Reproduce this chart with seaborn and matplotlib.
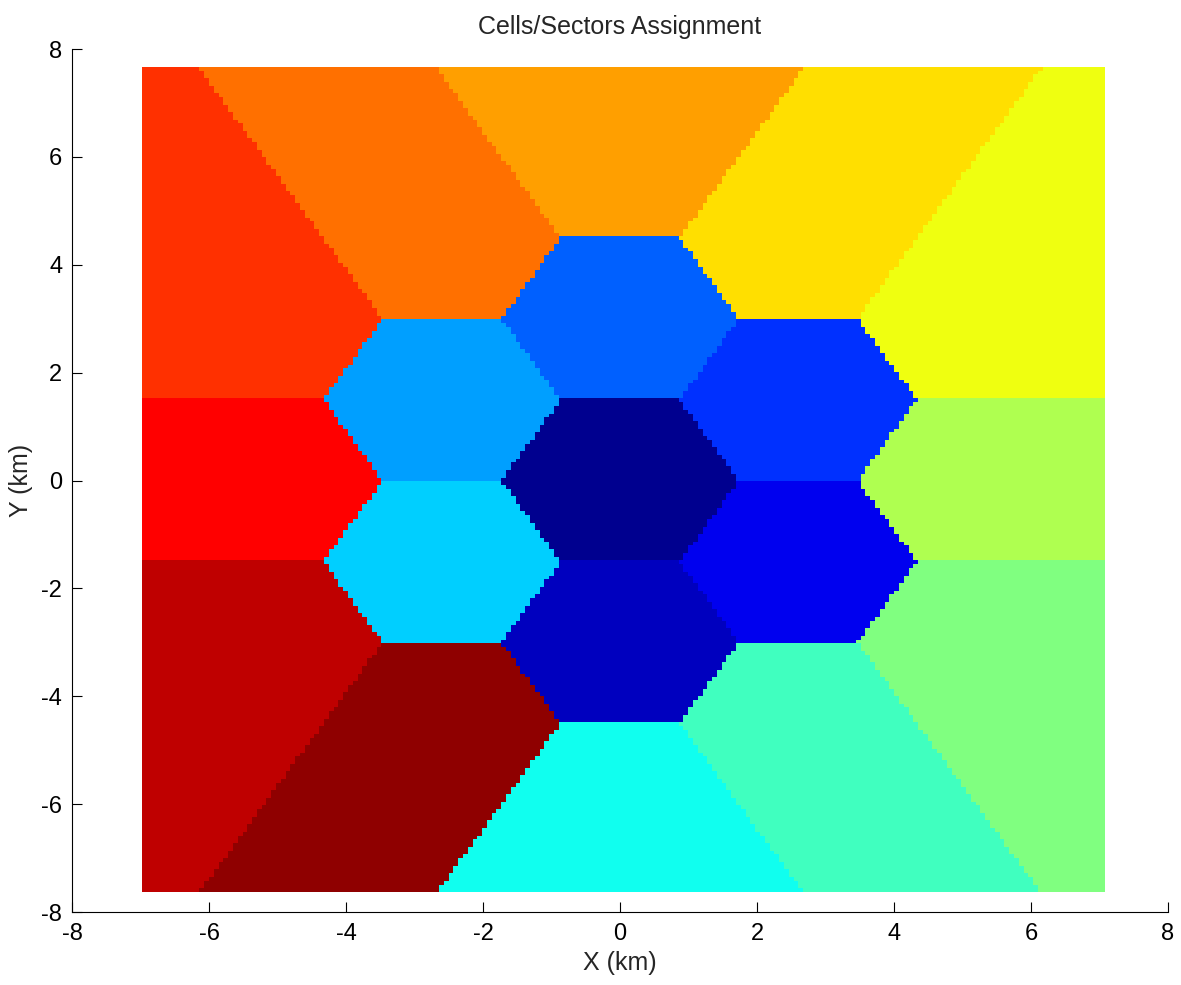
import numpy as np
import pandas as pd
import matplotlib
matplotlib.use("Agg")
import matplotlib.pyplot as plt
from matplotlib.colors import ListedColormap
import seaborn as sns

# cell/sector centres (km), in colour-index order
CELL_X = [0.0,
          0.0, 2.6, 2.6, 0.0, -2.6, -2.6,
          0.0, 2.6, 5.2, 5.2, 5.2, 2.6, 0.0, -2.6, -5.2, -5.2, -5.2, -2.6]
CELL_Y = [0.0,
          -3.0, -1.5, 1.5, 3.0, 1.5, -1.5,
          -6.0, -4.5, -3.0, 0.0, 3.0, 4.5, 6.0, 4.5, 3.0, 0.0, -3.0, -4.5]
CELL_ID = list(range(1, 20))

# area covered by the assignment map (km) and its sample count
AREA_X = [-6.98, 7.08]
AREA_Y = [-7.63, 7.67]
N_X, N_Y = 201, 219

TICKS = [-8, -6, -4, -2, 0, 2, 4, 6, 8]


def matlab_jet(m=64):
    n = int(np.ceil(m / 4))
    u = np.concatenate([np.arange(1, n + 1) / n, np.ones(n - 1), np.arange(n, 0, -1) / n])
    g = int(np.ceil(n / 2)) - (1 if m % 4 == 1 else 0) + np.arange(1, len(u) + 1)
    r = g + n
    b = g - n
    J = np.zeros((m, 3))
    for col, idx in ((0, r), (1, g), (2, b)):
        ok = (idx >= 1) & (idx <= m)
        J[idx[ok] - 1, col] = u[ok]
    return J


def cell_colours():
    jet = matlab_jet(64)
    k = np.array(CELL_ID)
    rows = np.clip(np.ceil(3.5 * (k - 1)).astype(int), 1, 64)
    return ListedColormap(jet[rows - 1])


def assignment_grid():
    dx = (AREA_X[1] - AREA_X[0]) / N_X
    dy = (AREA_Y[1] - AREA_Y[0]) / N_Y
    xs = AREA_X[0] + dx * (np.arange(N_X) + 0.5)
    ys = AREA_Y[1] - dy * (np.arange(N_Y) + 0.5)  # top row first
    gx, gy = np.meshgrid(xs, ys)
    d = (gx[..., None] - np.array(CELL_X)) ** 2 + (gy[..., None] - np.array(CELL_Y)) ** 2
    best = np.argmin(d, axis=2)
    return pd.DataFrame(np.array(CELL_ID)[best], index=np.round(ys, 3), columns=np.round(xs, 3))


def main():
    sns.set_theme(style="ticks")
    plt.rcParams["font.family"] = ["Liberation Sans", "DejaVu Sans"]
    plt.rcParams["axes.unicode_minus"] = False

    fig = plt.figure(figsize=(11.81, 9.85), dpi=100)
    ax = fig.add_axes([0.061, 0.0741, 0.928, 0.8761])
    ax.set_xlim(-8, 8)
    ax.set_ylim(-8, 8)

    hm_ax = ax.inset_axes([AREA_X[0], AREA_Y[0], AREA_X[1] - AREA_X[0], AREA_Y[1] - AREA_Y[0]],
                          transform=ax.transData)
    sns.heatmap(assignment_grid(), cmap=cell_colours(), vmin=0.5, vmax=19.5,
                cbar=False, xticklabels=False, yticklabels=False, ax=hm_ax)
    hm_ax.set_axis_off()

    ax.set_xticks(TICKS)
    ax.set_yticks(TICKS)
    ax.tick_params(direction="in", length=7, width=0.8, labelsize=17, colors="black")
    ax.tick_params(axis="x", pad=8)
    ax.tick_params(axis="y", pad=7)
    for s in ("top", "right"):
        ax.spines[s].set_visible(False)
    for s in ("left", "bottom"):
        ax.spines[s].set_linewidth(0.8)
        ax.spines[s].set_color("black")
    ax.set_facecolor("white")

    ax.set_xlabel("X (km)", fontsize=18, labelpad=4)
    ax.set_ylabel("Y (km)", fontsize=18, labelpad=6)
    ax.set_title("Cells/Sectors Assignment", fontsize=18, pad=11)

    fig.savefig("out.png", dpi=100)


if __name__ == "__main__":
    main()
